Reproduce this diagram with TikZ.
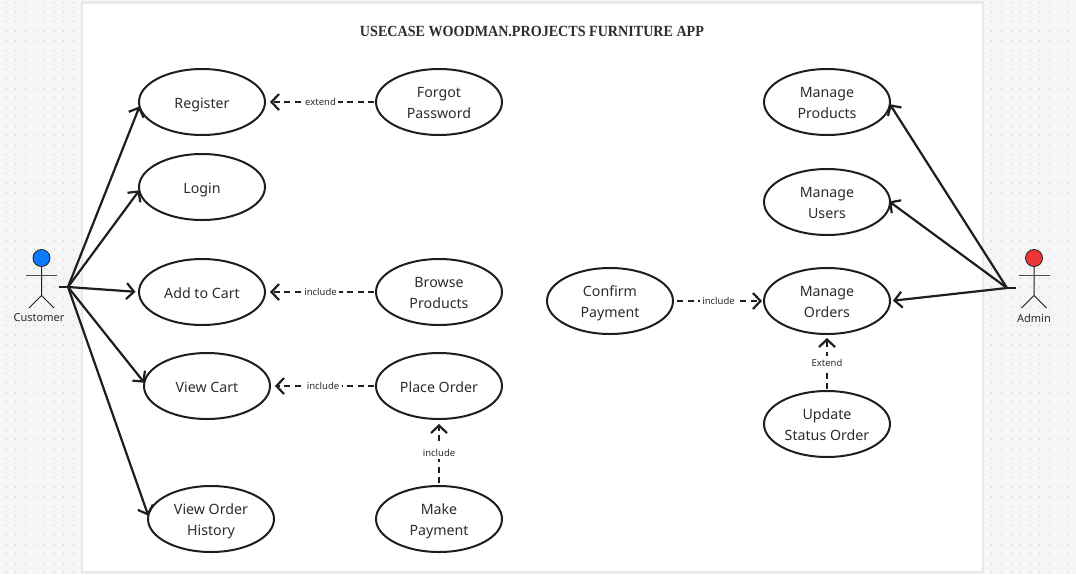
\documentclass[tikz,border=0pt]{standalone}
\usepackage{fontspec}
\setmainfont{Noto Sans}
\newfontfamily\titlefont[FakeStretch=0.91]{Liberation Serif}
\usetikzlibrary{positioning, arrows.meta, shapes.geometric}
\definecolor{ink}{HTML}{1E1E1E}
\definecolor{txt}{HTML}{2C2C2C}
\definecolor{canvas}{HTML}{F5F5F5}
\definecolor{edgegray}{HTML}{E9E9E9}
\definecolor{dotgray}{HTML}{C4C4C4}
\definecolor{custblue}{HTML}{0D7BFF}
\definecolor{admred}{HTML}{EA3636}

\begin{document}
\begin{tikzpicture}[
  x=1pt, y=-1pt,
  font=\fontsize{14.2}{21}\selectfont,
  usecase/.style={draw=ink, ellipse, line width=2pt, minimum width=126pt, minimum height=66pt,
                  inner sep=0pt, outer sep=0pt, align=center, text=txt, fill=white,
                  execute at begin node={\rule{0pt}{16pt}},
                  execute at end node={\rule[-4pt]{0pt}{4pt}}},
  twoline/.style={usecase, execute at begin node={\rule{0pt}{36pt}}},
  assoc/.style={-{Straight Barb[length=7.5pt, width=16pt]}, line width=2.2pt, ink},
  dep/.style={assoc, dash pattern=on 6pt off 4.5pt},
  deplabel/.style={fill=white, font=\fontsize{9.5}{11}\selectfont, text=txt, inner sep=2.5pt},
  actorhead/.style={circle, draw=ink, line width=0.8pt, minimum size=17pt, inner sep=0pt, outer sep=0pt},
  actorlabel/.style={font=\fontsize{11}{13}\selectfont, text=txt, inner sep=0pt},
  griddot/.style={dotgray, line width=1pt, dash pattern=on 1pt off 8.57pt, dash phase=-5.7pt}]
  \useasboundingbox (0,0) rectangle (1076,574);
  \fill[canvas] (0,0) rectangle (1076,574);
  \foreach \ypos in {2.8,12.3,...,574} \draw[griddot] (0,\ypos) -- (1076,\ypos);
  \fill[edgegray] (81,1) rectangle (984,573);
  \fill[white] (83,4) rectangle (982,571);
  \node[font=\titlefont\bfseries\fontsize{15.5}{18}\selectfont, text=txt] (title) at (532,31) {USECASE WOODMAN.PROJECTS FURNITURE APP};

  % left column
  \node[usecase] (register) at (202,102) {Register};
  \node[usecase, below=19pt of register] (login) {Login};
  \node[usecase, below=39pt of login] (addcart) {Add to Cart};
  \node[usecase, below=28pt of addcart, xshift=5pt] (viewcart) {View Cart};
  \node[twoline, below=67pt of viewcart, xshift=4pt] (history) {View Order\\History};
  \node[twoline] (forgot) at (439,102) {Forgot\\Password};
  \node[twoline] (browse) at (439,292) {Browse\\Products};
  \node[usecase, below=28pt of browse] (place) {Place Order};
  \node[twoline, below=67pt of place] (payment) {Make\\Payment};

  % right column
  \node[twoline] (products) at (827,102) {Manage\\Products};
  \node[twoline, below=34pt of products] (users) {Manage\\Users};
  \node[twoline, below=33pt of users] (orders) {Manage\\Orders};
  \node[twoline, below=57pt of orders] (status) {Update\\Status Order};
  \node[twoline, left=91pt of orders] (confirm) {Confirm\\Payment};

  % actors
  \foreach \nm/\cx/\col/\lbl/\lx in {cust/41.5/custblue/Customer/39, adm/1034/admred/Admin/1034} {
    \node[actorhead, fill=\col] (\nm head) at (\cx,258) {};
    \coordinate (\nm hip) at (\cx,295.5);
    \coordinate (\nm armL) at (\cx-15.5,275.5);
    \coordinate (\nm armR) at (\cx+15.5,275.5);
    \coordinate (\nm footL) at (\cx-12.5,308);
    \coordinate (\nm footR) at (\cx+12.5,308);
    \draw[ink, line width=1pt] (\nm head) -- (\nm hip) (\nm footL) -- (\nm hip) -- (\nm footR);
    \draw[ink!80, line width=1.4pt] (\nm armL) -- (\nm armR);
    \node[actorlabel] (\nm label) at (\lx,318) {\lbl};
  }

  \coordinate (custstub) at (59,287);
  \coordinate (custhub) at (68,287);
  \coordinate (admstub) at (1016,288);
  \coordinate (admhub) at (1007,288);
  \draw[ink, line width=2.2pt] (custstub) -- (custhub);
  \draw[ink, line width=2.2pt] (admstub) -- (admhub);

  \draw[assoc] (custhub) -- (register.184);
  \draw[assoc] (custhub) -- (login.183);
  \draw[assoc, shorten >=3.5pt] (custhub) -- (addcart.west);
  \draw[assoc] (custhub) -- (viewcart.177);
  \draw[assoc] (custhub) -- (history.177);
  \draw[assoc] (admhub) -- (products.-2);
  \draw[assoc, shorten >=-1pt] (admhub) -- (users.east);
  \draw[assoc, shorten >=3pt] (admhub) -- (orders.east);

  \draw[dep, shorten <=2pt, shorten >=5pt] (forgot.west) -- node[deplabel] (lbextend) {extend} (register.east);
  \draw[dep, shorten <=2pt, shorten >=5pt] (browse.west) -- node[deplabel] (lbbrowse) {include} (addcart.east);
  \draw[dep, shorten <=2pt, shorten >=5pt] (place.west) -- node[deplabel] (lbplace) {include} (viewcart.east);
  \draw[dep, shorten <=3pt, shorten >=5pt] (payment.north) -- node[deplabel] (lbpay) {include} (place.south);
  \draw[dep, shorten <=4pt, shorten >=2pt] (confirm.east) -- node[deplabel] (lbconfirm) {include} (orders.west);
  \draw[dep, shorten <=2pt, shorten >=4pt] (status.north) -- node[deplabel] (lbstatus) {Extend} (orders.south);
\end{tikzpicture}
\end{document}
